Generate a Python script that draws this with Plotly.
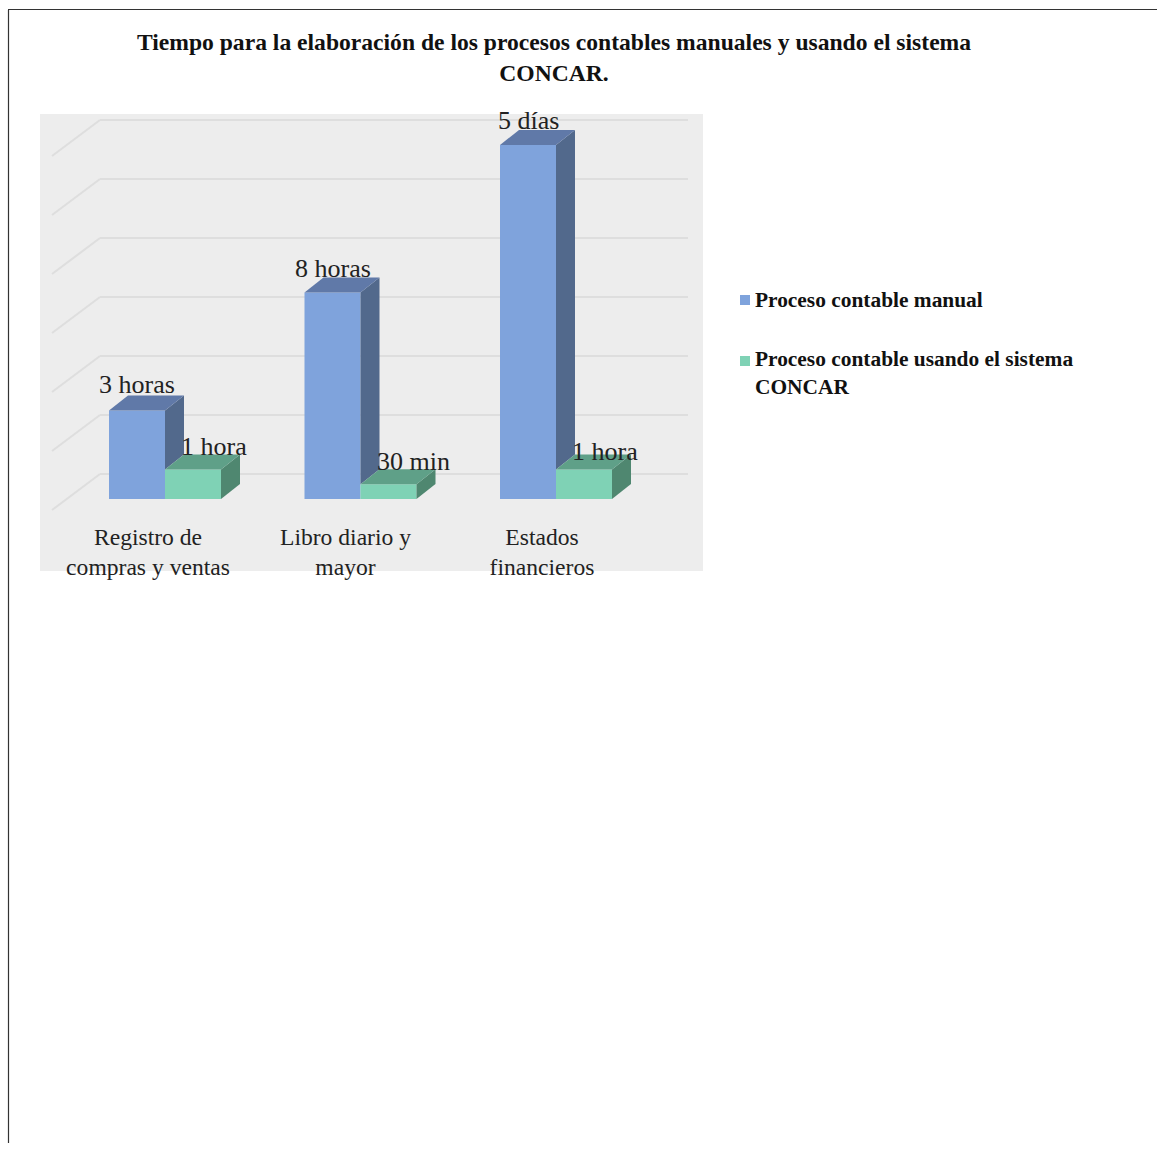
import plotly.graph_objects as go

# ---- data ----
categories = ["Registro de<br>compras y ventas", "Libro diario y<br>mayor", "Estados<br>financieros"]
series_manual_name = "Proceso contable manual"
series_concar_name = "Proceso contable usando el sistema<br>CONCAR"
manual_values = [1.5, 3.5, 6.0]
concar_values = [0.5, 0.25, 0.5]
manual_labels = ["3 horas", "8 horas", "5 días"]
concar_labels = ["1 hora", "30 min", "1 hora"]
grid_levels = [0, 1, 2, 3, 4, 5, 6]

# ---- geometry / style ----
W, H = 1157, 1154
UX = 195.5          # px per category
UY = 59.0           # px per value unit
X0 = 165.0          # px of category 0 centre
Y0 = 499.0          # px of value 0
PL, PR, PT, PB = 40, 703, 114, 520
bar_w = 56 / UX
dx, dy = 19 / UX, 15 / UY
FONT = "Liberation Serif"
GRID = "#dedede"

def px_x(p): return (p - X0) / UX
def px_y(p): return (Y0 - p) / UY

x_range = [px_x(PL), px_x(PR)]
y_range = [px_y(PB), px_y(PT)]

BLUE, BLUE_SIDE, BLUE_TOP = "#7fa3dc", "#52698c", "#6079a8"
GREEN, GREEN_SIDE, GREEN_TOP = "#7fd2b5", "#4f8770", "#5fa088"

fig = go.Figure()
idx = list(range(len(categories)))

fig.add_bar(x=idx, y=manual_values, width=bar_w, offset=-bar_w, marker=dict(color=BLUE, line_width=0),
            name=series_manual_name, hoverinfo="skip", showlegend=False)
fig.add_bar(x=idx, y=concar_values, width=bar_w, offset=0, marker=dict(color=GREEN, line_width=0),
            name=series_concar_name, hoverinfo="skip", showlegend=False)

def poly(xs, ys, color):
    fig.add_scatter(x=xs + xs[:1], y=ys + ys[:1], mode="lines", fill="toself", fillcolor=color,
                    line=dict(width=0, color=color), showlegend=False, hoverinfo="skip")

for i, v, c in zip(idx, manual_values, concar_values):
    l, r = i - bar_w, i
    poly([r, r + dx, r + dx, r], [c, c + dy, v + dy, v], BLUE_SIDE)
    poly([l, r, r + dx, l + dx], [v, v, v + dy, v + dy], BLUE_TOP)
for i, v in zip(idx, concar_values):
    l, r = i, i + bar_w
    poly([r, r + dx, r + dx, r], [0, dy, v + dy, v], GREEN_SIDE)
    poly([l, r, r + dx, l + dx], [v, v, v + dy, v + dy], GREEN_TOP)

def paper_rect(x0, x1, y0, y1, color):
    return dict(type="rect", xref="paper", yref="paper", x0=x0 / W, x1=x1 / W, y0=1 - y1 / H, y1=1 - y0 / H,
                fillcolor=color, line_width=0, layer="below")

shapes = [
    paper_rect(PL, PR, PT, 571, "#ededed"),
    paper_rect(740, 750, 295, 305, BLUE),
    paper_rect(740, 750, 356, 366, GREEN),
    dict(type="line", xref="paper", yref="paper", x0=8.5 / W, x1=8.5 / W, y0=1 - 10 / H, y1=1 - 1143 / H,
         line=dict(color="#333333", width=1.2), layer="below"),
    dict(type="line", xref="paper", yref="paper", x0=8 / W, x1=1, y0=1 - 9.5 / H, y1=1 - 9.5 / H,
         line=dict(color="#333333", width=1.2), layer="below"),
]
wall_y = 25 / UY
for g in grid_levels:
    shapes.append(dict(type="line", xref="x", yref="y", x0=px_x(100), x1=px_x(688), y0=g + wall_y, y1=g + wall_y,
                       line=dict(color=GRID, width=2), layer="below"))
    shapes.append(dict(type="line", xref="x", yref="y", x0=px_x(52), x1=px_x(100), y0=g + wall_y - 36 / UY, y1=g + wall_y,
                       line=dict(color=GRID, width=2), layer="below"))

annotations = []
m_shift = [(0, 26), (0, 24), (0, 25)]
c_shift = [(21, 23), (25, 23), (21, 18)]
for i, v, t, s in zip(idx, manual_values, manual_labels, m_shift):
    annotations.append(dict(x=i - bar_w / 2, y=v, text=t, showarrow=False, xshift=s[0], yshift=s[1],
                            font=dict(family=FONT, size=26, color="#222222")))
for i, v, t, s in zip(idx, concar_values, concar_labels, c_shift):
    annotations.append(dict(x=i + bar_w / 2, y=v, text=t, showarrow=False, xshift=s[0], yshift=s[1],
                            font=dict(family=FONT, size=26, color="#222222")))
for name, cy in [(series_manual_name, 300), (series_concar_name, 373)]:
    annotations.append(dict(xref="paper", yref="paper", x=753 / W, y=1 - cy / H, xanchor="left", yanchor="middle",
                            align="left", showarrow=False, text="<b>" + name + "</b>",
                            font=dict(family=FONT, size=21.4, color="#111111")))

tick_shift = [-17 / UX, -15 / UX, -14 / UX]

fig.update_layout(
    width=W, height=H, margin=dict(l=0, r=0, t=0, b=0),
    paper_bgcolor="white", plot_bgcolor="rgba(0,0,0,0)",
    barmode="overlay", font=dict(family=FONT, color="#222222"), showlegend=False,
    title=dict(text="<b>Tiempo para la elaboración de los procesos contables manuales y usando el sistema<br>CONCAR.</b>",
               x=554 / W, xanchor="center", y=1 - 50 / H, yanchor="middle",
               font=dict(family=FONT, size=23.6, color="#111111")),
    xaxis=dict(domain=[PL / W, PR / W], range=x_range, tickmode="array",
               tickvals=[i + s for i, s in zip(idx, tick_shift)], ticktext=categories,
               showgrid=False, zeroline=False, showline=False, ticks="", tickangle=0,
               tickfont=dict(family=FONT, size=23.6, color="#222222")),
    yaxis=dict(domain=[1 - PB / H, 1 - PT / H], range=y_range, showgrid=False, zeroline=False,
               showline=False, showticklabels=False, ticks=""),
    shapes=shapes, annotations=annotations,
)
fig.write_html("out.html", config={"displayModeBar": False}, post_script="document.body.style.margin='0';")
